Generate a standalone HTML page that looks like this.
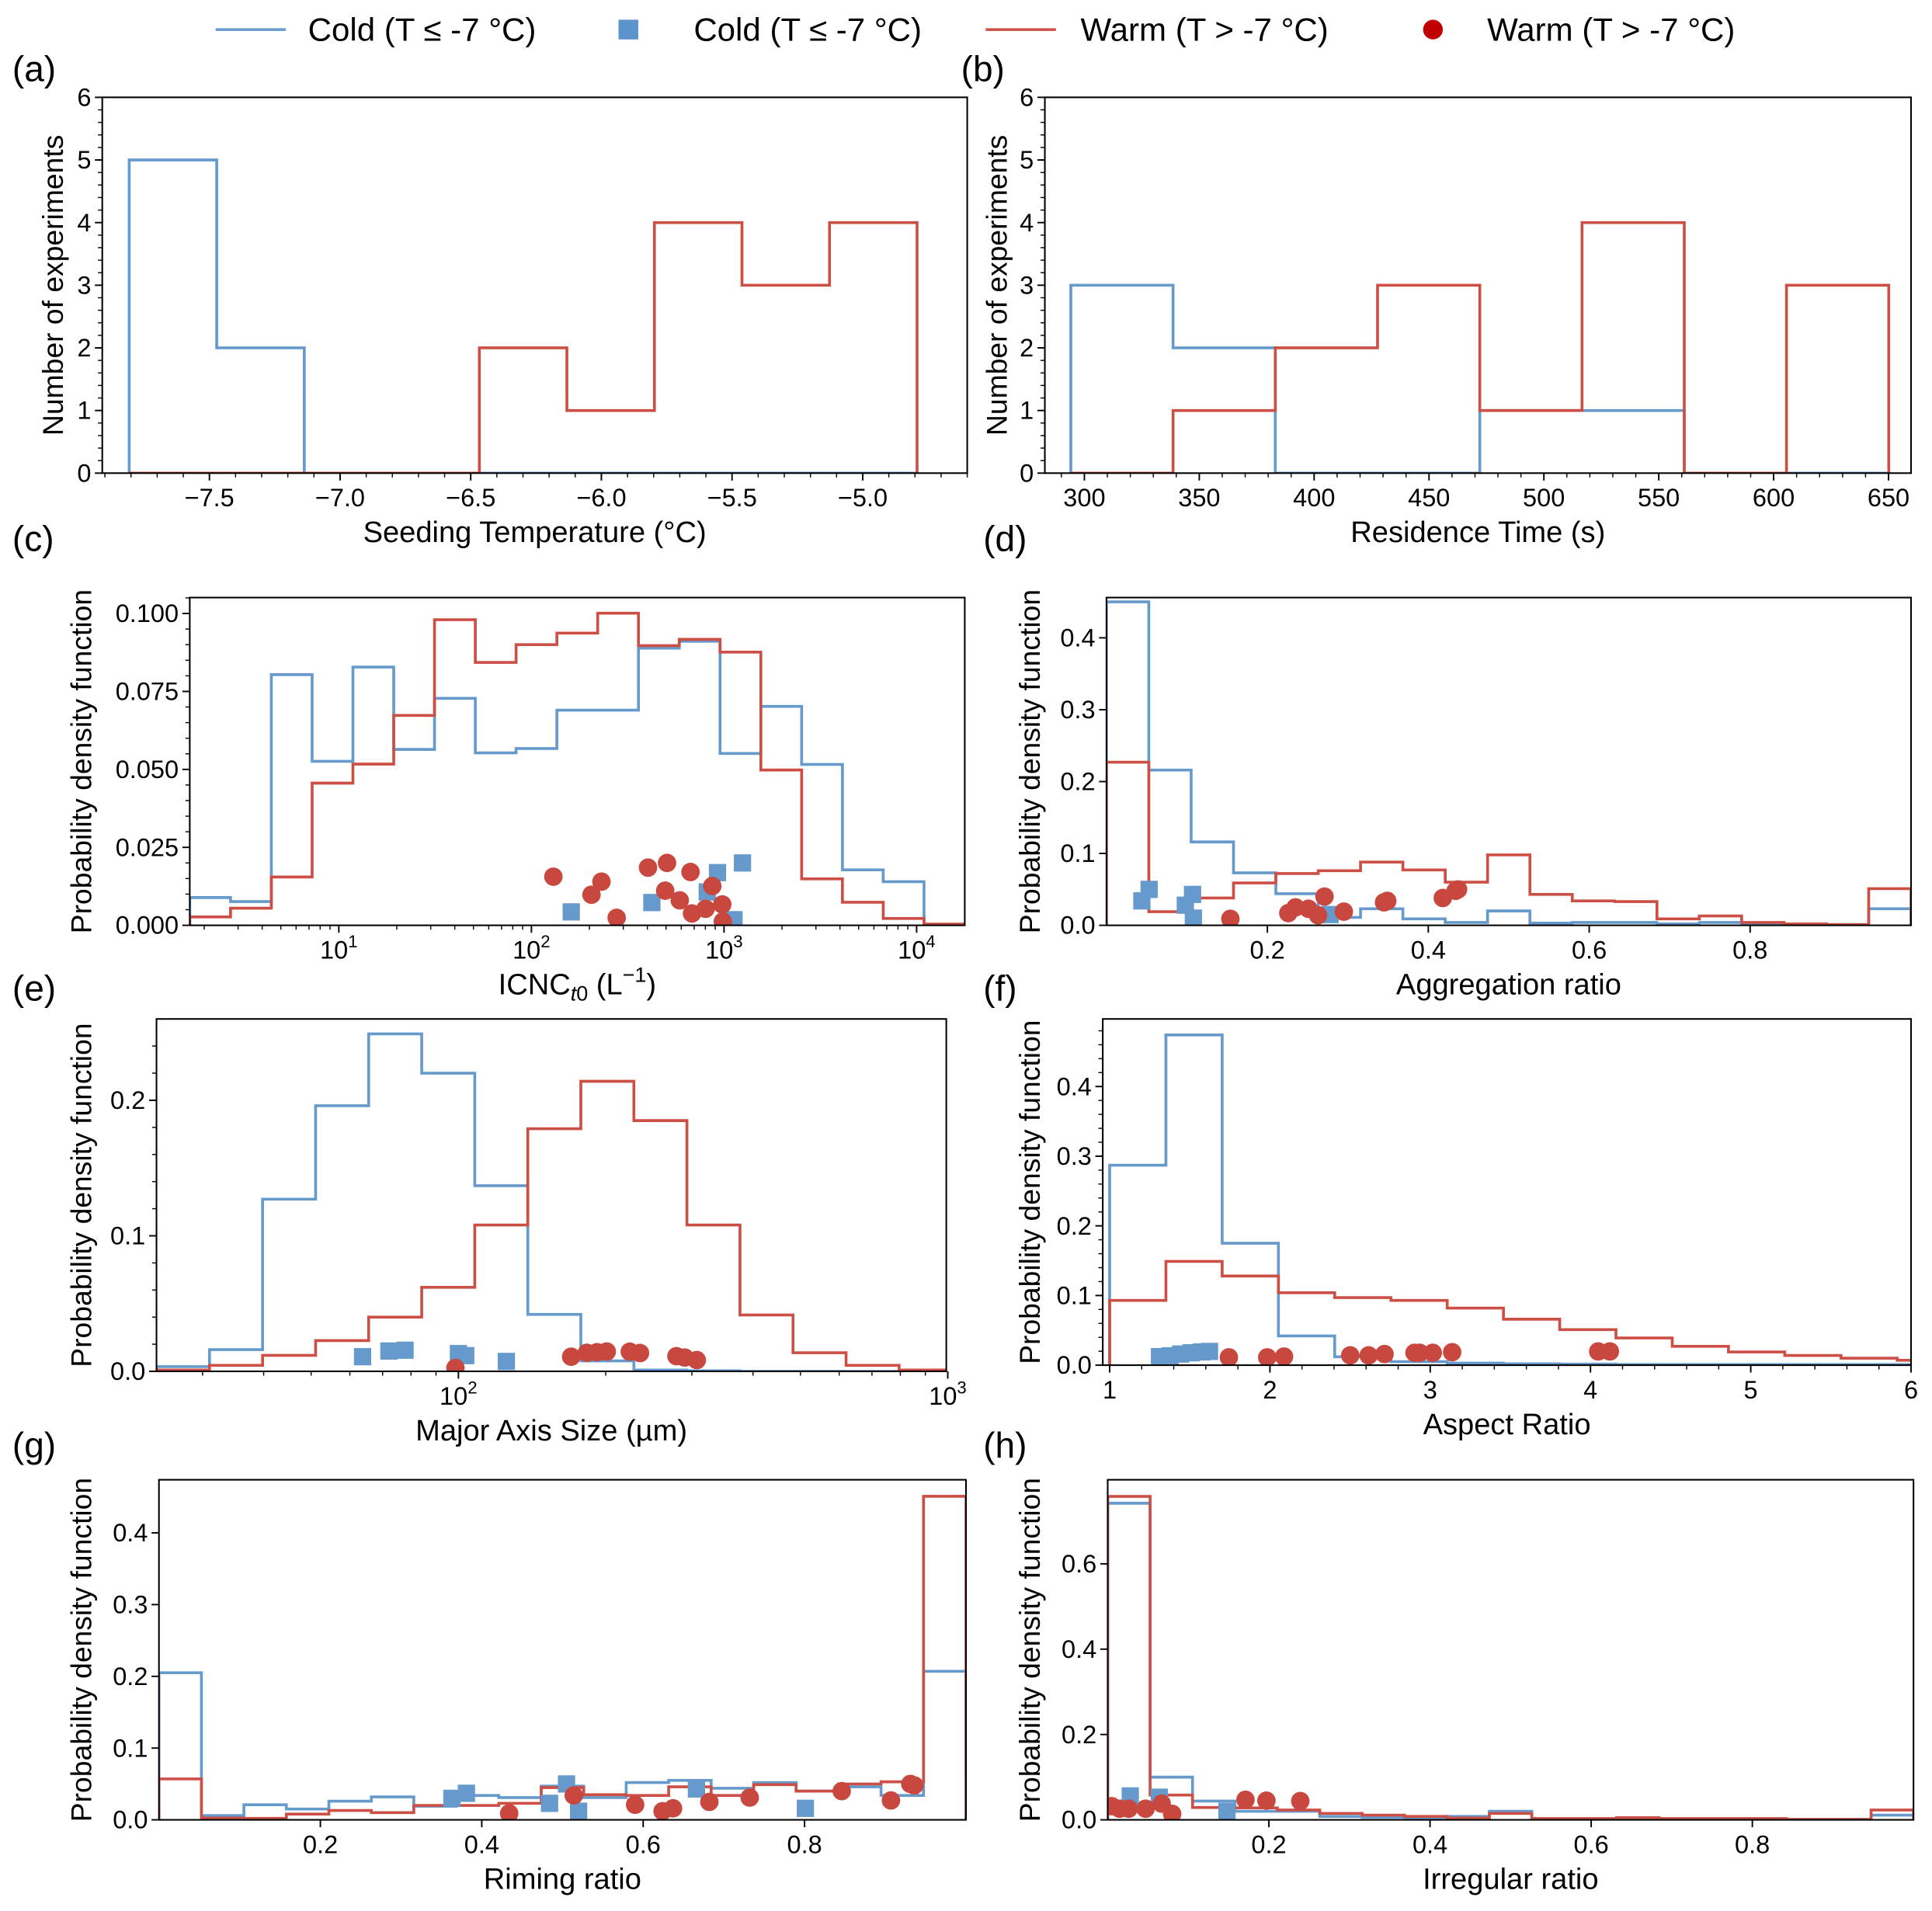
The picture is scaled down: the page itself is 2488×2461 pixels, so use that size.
<!DOCTYPE html>
<html>
<head>
<meta charset="utf-8">
<style>
  html, body { margin: 0; padding: 0; background: #ffffff; }
  svg { display: block; }
  text { font-family: "Liberation Sans", "DejaVu Sans", sans-serif; fill: #000; }
</style>
</head>
<body>
<svg id="fig" xmlns="http://www.w3.org/2000/svg" width="2488" height="2461" viewBox="0 0 1568 1551">
  <rect x="0" y="0" width="1568" height="1551" fill="#ffffff"/>
  <g>
    <line x1="175" y1="24" x2="232" y2="24" stroke="#6699cc" stroke-width="2.2"/>
    <text x="250" y="33" font-size="26.5">Cold (T ≤ -7 °C)</text>
    <rect x="502" y="16" width="16" height="16" fill="#5b93cc"/>
    <text x="563" y="33" font-size="26.5">Cold (T ≤ -7 °C)</text>
    <line x1="800" y1="24" x2="857" y2="24" stroke="#cc4f46" stroke-width="2.2"/>
    <text x="877" y="33" font-size="26.5">Warm (T &gt; -7 °C)</text>
    <circle cx="1163" cy="24" r="8" fill="#c00000"/>
    <text x="1207" y="33" font-size="26.5">Warm (T &gt; -7 °C)</text>
  </g>
</svg>
<script>
// ---------- data ----------
const aBlue = [5,2,0,0,0,0,0,0,0];
const aRed  = [0,0,0,0,2,1,4,3,4];
const aTicks = [-7.5,-7.0,-6.5,-6.0,-5.5,-5.0];
const bBlue = [3,2,0,0,1,1,0,0];
const bRed  = [0,1,2,3,1,4,0,3];
const bTicks = [300,350,400,450,500,550,600,650];
const cBlue = [0.0089,0.0076,0.0804,0.0526,0.0828,0.0564,0.0728,0.0553,0.0567,0.069,0.069,0.0889,0.0911,0.0551,0.0702,0.0516,0.0178,0.014,0];
const cRed  = [0.0027,0.0055,0.0155,0.0456,0.0517,0.0673,0.098,0.0843,0.09,0.0937,0.1001,0.0897,0.0917,0.0876,0.0498,0.0149,0.0074,0.0022,0.0004];
const cBlueX = [161,422,818,925,1247,1127];
const cBlueY = [0.0043,0.0073,0.0107,0.0169,0.0200,0.0018];
const cRedX = [130,205,231,277,403,506,495,589,670,682,802,869,979,986];
const cRedY = [0.0156,0.0098,0.0140,0.0024,0.0185,0.0200,0.0111,0.0080,0.0171,0.0038,0.0053,0.0126,0.0067,0.0012];
const cTicks = [10,100,1000,10000];
const dBlue = [0.450,0.216,0.116,0.073,0.044,0.011,0.023,0.009,0.004,0.020,0.003,0.004,0.004,0.002,0.004,0.002,0.001,0.001,0.023];
const dRed  = [0.227,0.019,0.038,0.059,0.072,0.076,0.088,0.077,0.060,0.098,0.043,0.034,0.033,0.009,0.013,0.004,0.002,0.001,0.051];
const dBlueX = [0.044,0.053,0.098,0.107,0.108,0.278];
const dBlueY = [0.034,0.050,0.028,0.043,0.010,0.015];
const dRedX = [0.154,0.226,0.235,0.251,0.263,0.271,0.295,0.345,0.349,0.418,0.434,0.437];
const dRedY = [0.009,0.017,0.025,0.023,0.014,0.040,0.019,0.032,0.034,0.038,0.048,0.050];
const dTicks = [0.2,0.4,0.6,0.8];
const eBlue = [0.0035,0.016,0.127,0.196,0.249,0.220,0.137,0.042,0.0077,0.001,0.0004,0,0,0,0];
const eRed  = [0.001,0.0044,0.0118,0.0227,0.040,0.062,0.108,0.179,0.214,0.185,0.108,0.0416,0.0137,0.0044,0.001];
const eBlueX = [63.7,72.1,77.8,100,103.5,125.3];
const eBlueY = [0.0108,0.0150,0.0156,0.0131,0.0116,0.0073];
const eRedX = [98.6,170,183,192,201,224,235,279,290,307];
const eRedY = [0.0025,0.0108,0.0137,0.0141,0.0146,0.0145,0.0135,0.0112,0.0102,0.0083];
const eTicks = [100,1000];
const fBlue = [0.287,0.474,0.175,0.042,0.012,0.005,0.003,0.002,0.0015,0.001,0.001,0.001,0.001,0.001,0.001];
const fRed  = [0.093,0.149,0.128,0.104,0.097,0.093,0.082,0.066,0.051,0.039,0.027,0.019,0.014,0.010,0.007];
const fBlueX = [1.311,1.377,1.443,1.508,1.574,1.623];
const fBlueY = [0.0123,0.0134,0.0160,0.0178,0.0190,0.0197];
const fRedX = [1.744,1.983,2.088,2.501,2.616,2.715,2.902,2.934,3.016,3.137,4.048,4.121];
const fRedY = [0.0112,0.0112,0.0123,0.0141,0.0141,0.016,0.0178,0.0178,0.0178,0.0186,0.0197,0.0197];
const fTicks = [1,2,3,4,5,6];
const gBlue = [0.205,0.006,0.021,0.015,0.026,0.032,0.019,0.034,0.031,0.047,0.031,0.052,0.055,0.044,0.052,0.040,0.046,0.034,0.207];
const gRed  = [0.057,0.0025,0.002,0.008,0.013,0.010,0.020,0.020,0.023,0.045,0.035,0.034,0.046,0.034,0.049,0.040,0.050,0.053,0.451];
const gBlueX = [0.363,0.381,0.484,0.505,0.520,0.666,0.801];
const gBlueY = [0.030,0.037,0.023,0.050,0.012,0.043,0.016];
const gRedX = [0.434,0.514,0.590,0.624,0.637,0.682,0.732,0.846,0.907,0.931,0.936];
const gRedY = [0.009,0.034,0.021,0.012,0.016,0.025,0.031,0.040,0.027,0.050,0.048];
const gTicks = [0.2,0.4,0.6,0.8];
const hBlue = [0.742,0.100,0.044,0.020,0.020,0.008,0.006,0.003,0.008,0.020,0.003,0.003,0.004,0.003,0.003,0.003,0.001,0.001,0.011];
const hRed  = [0.758,0.058,0.029,0.028,0.023,0.015,0.011,0.008,0.004,0.015,0.003,0.003,0.005,0.003,0.003,0.003,0.001,0.001,0.023];
const hBlueX = [0.028,0.064,0.148];
const hBlueY = [0.056,0.053,0.020];
const hRedX = [0.005,0.015,0.026,0.047,0.067,0.080,0.171,0.197,0.239];
const hRedY = [0.032,0.026,0.026,0.026,0.038,0.014,0.047,0.045,0.044];
const hTicks = [0.2,0.4,0.6,0.8];

// ---------- drawing ----------
const NS = 'http://www.w3.org/2000/svg';
const svg = document.getElementById('fig');
const BLUE = '#6699cc', RED = '#cc4f46', BLUEM = '#6699cc', REDM = '#c8483f';

function el(tag, parent) { const e = document.createElementNS(NS, tag); parent.appendChild(e); return e; }
function fmtMinus(s) { return String(s).replace('-', '\u2212'); }

function drawPanel(p) {
  const g = el('g', svg);
  
  
  const tx = v => p.log ? Math.log10(v) : v;
  const sx = v => p.x0 + (tx(v) - p.xd[0]) / (p.xd[1] - p.xd[0]) * (p.x1 - p.x0);
  const sxr = t => p.x0 + (t - p.xd[0]) / (p.xd[1] - p.xd[0]) * (p.x1 - p.x0);
  const sy = v => p.y1 - (v - p.yd[0]) / (p.yd[1] - p.yd[0]) * (p.y1 - p.y0);

  const defs = el('defs', g);
  const cp = el('clipPath', defs);
  cp.setAttribute('id', 'clip-' + p.id);
  const cr = el('rect', cp);
  cr.setAttribute('x', p.x0); cr.setAttribute('y', p.y0 - 2);
  cr.setAttribute('width', p.x1 - p.x0); cr.setAttribute('height', p.y1 - p.y0 + 2);

  const plot = el('g', g);
  plot.setAttribute('clip-path', 'url(#clip-' + p.id + ')');
  
  

  function step(vals, color, name) {
    let d = '';
    for (let i = 0; i < vals.length; i++) {
      const xa = sxr(p.start + i * p.width), xb = sxr(p.start + (i + 1) * p.width);
      const y = sy(vals[i]);
      if (i === 0) d += 'M' + xa + ' ' + sy(0) + ' L' + xa + ' ' + y;
      else d += ' L' + xa + ' ' + y;
      d += ' L' + xb + ' ' + y;
    }
    d += ' L' + sxr(p.start + vals.length * p.width) + ' ' + sy(0);
    const path = el('path', plot);
    path.setAttribute('d', d);
    path.setAttribute('fill', 'none');
    path.setAttribute('stroke', color);
    path.setAttribute('stroke-width', '2.3');
    
    
  }
  step(p.blue, BLUE, 'cold-histogram-' + p.id);
  step(p.red, RED, 'warm-histogram-' + p.id);

  if (p.bx) {
    for (let i = 0; i < p.bx.length; i++) {
      const r = el('rect', plot);
      r.setAttribute('x', sx(p.bx[i]) - 7); r.setAttribute('y', sy(p.by[i]) - 7);
      r.setAttribute('width', 14); r.setAttribute('height', 14);
      r.setAttribute('fill', BLUEM);
      
      
    }
    for (let i = 0; i < p.rx.length; i++) {
      const c = el('circle', plot);
      c.setAttribute('cx', sx(p.rx[i])); c.setAttribute('cy', sy(p.ry[i]));
      c.setAttribute('r', 7.5);
      c.setAttribute('fill', REDM);
      
      
    }
  }

  const fr = el('rect', g);
  fr.setAttribute('x', p.x0); fr.setAttribute('y', p.y0);
  fr.setAttribute('width', p.x1 - p.x0); fr.setAttribute('height', p.y1 - p.y0);
  fr.setAttribute('fill', 'none'); fr.setAttribute('stroke', '#000'); fr.setAttribute('stroke-width', '1.3');
  
  

  p.xt.forEach(v => {
    const x = sx(v);
    const t = el('line', g);
    t.setAttribute('x1', x); t.setAttribute('x2', x); t.setAttribute('y1', p.y1); t.setAttribute('y2', p.y1 + 6);
    t.setAttribute('stroke', '#000'); t.setAttribute('stroke-width', '1.2');
    
    
    const lb = el('text', g);
    lb.setAttribute('x', x); lb.setAttribute('y', p.y1 + 27);
    lb.setAttribute('text-anchor', 'middle'); lb.setAttribute('font-size', '20.5');
    
    
    if (p.log) {
      lb.textContent = '10';
      const sup = el('tspan', lb);
      sup.setAttribute('dy', '-9'); sup.setAttribute('font-size', '14');
      sup.textContent = String(Math.round(Math.log10(v)));
    } else {
      lb.textContent = fmtMinus(p.xfmt(v));
    }
  });
  if (p.log) {
    for (let dec = Math.floor(p.xd[0]); dec <= Math.ceil(p.xd[1]); dec++) {
      for (let m = 2; m <= 9; m++) {
        const t0 = dec + Math.log10(m);
        if (t0 <= p.xd[0] || t0 >= p.xd[1]) continue;
        const x = sxr(t0);
        const t = el('line', g);
        t.setAttribute('x1', x); t.setAttribute('x2', x); t.setAttribute('y1', p.y1); t.setAttribute('y2', p.y1 + 3.5);
        t.setAttribute('stroke', '#000'); t.setAttribute('stroke-width', '0.9');
        
        
      }
    }
  } else if (p.xminor) {
    const s0 = Math.ceil(p.xd[0] / p.xminor) * p.xminor;
    for (let v = s0; v < p.xd[1]; v += p.xminor) {
      const x = sxr(v);
      const t = el('line', g);
      t.setAttribute('x1', x); t.setAttribute('x2', x); t.setAttribute('y1', p.y1); t.setAttribute('y2', p.y1 + 3.5);
      t.setAttribute('stroke', '#000'); t.setAttribute('stroke-width', '0.9');
      
      
    }
  }
  for (let k = 0; k * p.ystep <= p.yd[1] + 1e-9; k++) {
    const v = k * p.ystep;
    const y = sy(v);
    const t = el('line', g);
    t.setAttribute('x1', p.x0 - 6); t.setAttribute('x2', p.x0); t.setAttribute('y1', y); t.setAttribute('y2', y);
    t.setAttribute('stroke', '#000'); t.setAttribute('stroke-width', '1.2');
    
    
    const lb = el('text', g);
    lb.setAttribute('x', p.x0 - 9); lb.setAttribute('y', y + 7);
    lb.setAttribute('text-anchor', 'end'); lb.setAttribute('font-size', '20.5');
    
    
    lb.textContent = v.toFixed(p.ydec);
  }
  if (p.yminor) {
    for (let k = 1; k * p.yminor < p.yd[1]; k++) {
      const y = sy(k * p.yminor);
      const t = el('line', g);
      t.setAttribute('x1', p.x0 - 3.5); t.setAttribute('x2', p.x0); t.setAttribute('y1', y); t.setAttribute('y2', y);
      t.setAttribute('stroke', '#000'); t.setAttribute('stroke-width', '0.9');
      
      
    }
  }
  const xl = el('text', g);
  xl.setAttribute('x', (p.x0 + p.x1) / 2); xl.setAttribute('y', p.y1 + 56);
  xl.setAttribute('text-anchor', 'middle'); xl.setAttribute('font-size', '24');
  
  
  if (p.id === 'c') {
    xl.textContent = 'ICNC';
    const s1 = el('tspan', xl); s1.setAttribute('dy', '5'); s1.setAttribute('font-size', '17'); s1.setAttribute('font-style', 'italic'); s1.textContent = 't';
    const s1b = el('tspan', xl); s1b.setAttribute('font-size', '17'); s1b.textContent = '0';
    const s2 = el('tspan', xl); s2.setAttribute('dy', '-5'); s2.textContent = ' (L';
    const s3 = el('tspan', xl); s3.setAttribute('dy', '-10'); s3.setAttribute('font-size', '17'); s3.textContent = '\u22121';
    const s4 = el('tspan', xl); s4.setAttribute('dy', '10'); s4.textContent = ')';
  } else {
    xl.textContent = p.xlabel;
  }
  const yl = el('text', g);
  const cy = (p.y0 + p.y1) / 2;
  yl.setAttribute('x', p.ylx); yl.setAttribute('y', cy);
  yl.setAttribute('transform', 'rotate(-90 ' + p.ylx + ' ' + cy + ')');
  yl.setAttribute('text-anchor', 'middle'); yl.setAttribute('font-size', '23.5');
  
  
  yl.textContent = p.ylabel;
  const pl = el('text', g);
  pl.setAttribute('x', p.lx); pl.setAttribute('y', p.ly);
  pl.setAttribute('font-size', '29');
  
  
  pl.textContent = '(' + p.id + ')';
}

const PDF = 'Probability density function';
const NEXP = 'Number of experiments';
const f1 = v => v.toFixed(1), f0 = v => String(v);

drawPanel({id:'a', x0:83, x1:785, y0:79, y1:384, xd:[-7.91,-4.60], yd:[0,6], start:-7.807, width:0.335,
  blue:aBlue, red:aRed, xt:aTicks, xfmt:f1, xminor:0.1, ystep:1, ydec:0, yminor:0.2,
  xlabel:'Seeding Temperature (°C)', ylabel:NEXP, ylx:51, lx:10, ly:66});
drawPanel({id:'b', x0:848, x1:1551, y0:79, y1:384, xd:[282.8,659.8], yd:[0,6], start:294.1, width:44.5,
  blue:bBlue, red:bRed, xt:bTicks, xfmt:f0, xminor:10, ystep:1, ydec:0, yminor:0.2,
  xlabel:'Residence Time (s)', ylabel:NEXP, ylx:817, lx:780, ly:66});
drawPanel({id:'c', x0:154, x1:783, y0:485, y1:751, log:true, xd:[0.226,4.25], yd:[0,0.1051], start:0.226, width:0.2118,
  blue:cBlue, red:cRed, bx:cBlueX, by:cBlueY, rx:cRedX, ry:cRedY, xt:cTicks, ystep:0.025, ydec:3, yminor:0.005,
  xlabel:'', ylabel:PDF, ylx:74, lx:10, ly:447});
drawPanel({id:'d', x0:898, x1:1551, y0:485, y1:751, xd:[0,1], yd:[0,0.456], start:0, width:1/19,
  blue:dBlue, red:dRed, bx:dBlueX, by:dBlueY, rx:dRedX, ry:dRedY, xt:dTicks, xfmt:f1, ystep:0.1, ydec:1,
  xlabel:'Aggregation ratio', ylabel:PDF, ylx:844, lx:798, ly:447});
drawPanel({id:'e', x0:127, x1:768, y0:827, y1:1113, log:true, xd:[1.383,2.997], yd:[0,0.26], start:1.383, width:0.1084,
  blue:eBlue, red:eRed, bx:eBlueX, by:eBlueY, rx:eRedX, ry:eRedY, xt:eTicks, ystep:0.1, ydec:1, yminor:0.02,
  xlabel:'Major Axis Size (µm)', ylabel:PDF, ylx:74, lx:10, ly:812});
drawPanel({id:'f', x0:895, x1:1551, y0:827, y1:1108, xd:[0.957,6.0], yd:[0,0.497], start:1, width:0.351,
  blue:fBlue, red:fRed, bx:fBlueX, by:fBlueY, rx:fRedX, ry:fRedY, xt:fTicks, xfmt:f0, xminor:0.2, ystep:0.1, ydec:1, yminor:0.02,
  xlabel:'Aspect Ratio', ylabel:PDF, ylx:844, lx:798, ly:812});
drawPanel({id:'g', x0:129, x1:784, y0:1201, y1:1477, xd:[0,1], yd:[0,0.474], start:0, width:1/19,
  blue:gBlue, red:gRed, bx:gBlueX, by:gBlueY, rx:gRedX, ry:gRedY, xt:gTicks, xfmt:f1, ystep:0.1, ydec:1,
  xlabel:'Riming ratio', ylabel:PDF, ylx:74, lx:10, ly:1183});
drawPanel({id:'h', x0:899, x1:1553, y0:1201, y1:1477, xd:[0,1], yd:[0,0.797], start:0, width:1/19,
  blue:hBlue, red:hRed, bx:hBlueX, by:hBlueY, rx:hRedX, ry:hRedY, xt:hTicks, xfmt:f1, ystep:0.2, ydec:1,
  xlabel:'Irregular ratio', ylabel:PDF, ylx:844, lx:798, ly:1183});
</script>
</body>
</html>
